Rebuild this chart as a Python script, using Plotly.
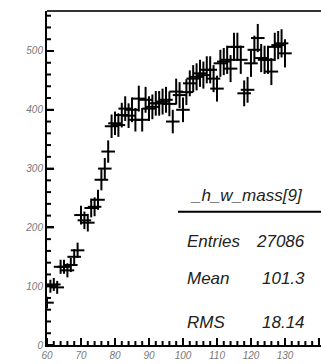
import plotly.graph_objects as go

# data
x_vals = [60, 61, 62, 63, 64, 65, 66, 67, 68, 69,
          70, 71, 72, 73, 74, 75, 76, 77, 78, 79,
          80, 81, 82, 83, 84, 85, 86, 87, 88, 89,
          90, 91, 92, 93, 94, 95, 96, 97, 98, 99,
          100, 101, 102, 103, 104, 105, 106, 107, 108, 109,
          110, 111, 112, 113, 114, 115, 116, 117, 118, 119,
          120, 121, 122, 123, 124, 125, 126, 127, 128, 129, 130]
y_vals = [72, 100, 103, 98, 133, 133, 127, 136, 150, 161,
          221, 212, 208, 233, 235, 247, 281, 300, 329, 372,
          377, 374, 391, 402, 390, 400, 383, 419, 383, 417,
          402, 405, 411, 411, 414, 417, 410, 380, 431, 425,
          400, 430, 445, 453, 456, 462, 459, 468, 468, 453,
          436, 479, 482, 485, 470, 507, 507, 485, 428, 434,
          479, 502, 522, 488, 485, 485, 465, 507, 510, 513, 496]
y_err = [10, 11, 11, 11, 12, 12, 12, 12, 13, 13,
         16, 15, 15, 16, 16, 17, 18, 18, 19, 20,
         20, 20, 21, 21, 21, 21, 20, 22, 20, 22,
         21, 21, 21, 21, 22, 22, 21, 20, 22, 22,
         21, 22, 22, 23, 23, 23, 23, 23, 23, 23,
         22, 23, 23, 24, 23, 24, 24, 24, 22, 22,
         23, 24, 24, 24, 24, 24, 23, 24, 24, 24, 24]
x_err = 2

x_tickvals = [60, 70, 80, 90, 100, 110, 120, 130, 140]
y_tickvals = [0, 100, 200, 300, 400, 500]
x_minor_step = 2
y_minor_step = 20

stats_title = "_h_w_mass[9]"
stats_labels = ["Entries", "Mean", "RMS"]
stats_values = ["27086", "101.3", "18.14"]

X_RANGE = [60, 140.6]
Y_RANGE = [0, 568]
W, H = 321, 364
ML, MR, MT, MB = 47, 0, 11, 19
px_per_x = (W - ML - MR) / (X_RANGE[1] - X_RANGE[0])
px_per_y = (H - MT - MB) / (Y_RANGE[1] - Y_RANGE[0])

fig = go.Figure()
fig.add_trace(go.Scatter(
    x=x_vals, y=y_vals, mode="markers",
    marker=dict(size=1, color="black"),
    error_x=dict(type="constant", value=x_err, thickness=2, width=0, color="black"),
    error_y=dict(type="data", array=y_err, thickness=2, width=0, color="black"),
    showlegend=False, hoverinfo="skip", cliponaxis=False,
))


def tick_segments(vals, minor_vals, major_len, minor_len, horizontal):
    xs, ys = [], []
    for v in minor_vals:
        ln = major_len if v in vals else minor_len
        if horizontal:  # ticks on the bottom axis, pointing up
            xs += [v, v, None]
            ys += [Y_RANGE[0], Y_RANGE[0] + ln, None]
        else:  # ticks on the left axis, pointing right
            xs += [X_RANGE[0], X_RANGE[0] + ln, None]
            ys += [v, v, None]
    return xs, ys


x_minor = list(range(x_tickvals[0], x_tickvals[-1] + 1, x_minor_step))
y_minor = list(range(y_tickvals[0], int(Y_RANGE[1]) + 1, y_minor_step))
tx, ty = tick_segments(x_tickvals, x_minor, 7 / px_per_y, 4 / px_per_y, True)
fig.add_trace(go.Scatter(x=tx, y=ty, mode="lines", line=dict(color="black", width=2),
                         connectgaps=False, showlegend=False, hoverinfo="skip",
                         cliponaxis=False))
tx, ty = tick_segments(y_tickvals, y_minor, 7 / px_per_x, 4 / px_per_x, False)
fig.add_trace(go.Scatter(x=tx, y=ty, mode="lines", line=dict(color="black", width=2),
                         connectgaps=False, showlegend=False, hoverinfo="skip",
                         cliponaxis=False))

tickfont = dict(family="Liberation Sans", size=10, color="#777777")
fig.update_layout(
    width=W, height=H,
    margin=dict(l=ML, r=MR, t=MT, b=MB),
    paper_bgcolor="white", plot_bgcolor="white",
    xaxis=dict(range=X_RANGE, showline=True, linecolor="black", linewidth=2,
               ticks="inside", ticklen=7, tickwidth=2, tickcolor="black",
               tickvals=x_tickvals,
               ticktext=["<i>%d</i>" % v for v in x_tickvals],
               showgrid=False, zeroline=False, tickfont=tickfont),
    yaxis=dict(range=Y_RANGE, showline=True, linecolor="black", linewidth=2,
               ticks="inside", ticklen=7, tickwidth=2, tickcolor="black",
               tickvals=y_tickvals,
               ticktext=["<i>%d</i>" % v for v in y_tickvals],
               showgrid=False, zeroline=False, tickfont=tickfont),
)

# top frame line
fig.add_shape(type="line", xref="paper", yref="paper", x0=0, x1=1.05, y0=1, y1=1,
              line=dict(color="#333333", width=2))

sfont = dict(family="Liberation Sans", size=17, color="#222222")
fig.add_annotation(xref="paper", yref="paper", x=0.727, y=0.449,
                   text="<i>%s</i>" % stats_title,
                   showarrow=False, font=sfont, xanchor="center", yanchor="middle")
fig.add_shape(type="line", xref="paper", yref="paper", x0=0.478, x1=1.05, y0=0.399, y1=0.399,
              line=dict(color="black", width=2))
ys = [0.311, 0.198, 0.066]
for lab, val, yy in zip(stats_labels, stats_values, ys):
    fig.add_annotation(xref="paper", yref="paper", x=0.5036, y=yy, text="<i>%s</i>" % lab,
                       showarrow=False, font=sfont, xanchor="left", yanchor="middle")
    fig.add_annotation(xref="paper", yref="paper", x=0.949, y=yy, text="<i>%s</i>" % val,
                       showarrow=False, font=sfont, xanchor="right", yanchor="middle")

fig.write_html("out.html")
